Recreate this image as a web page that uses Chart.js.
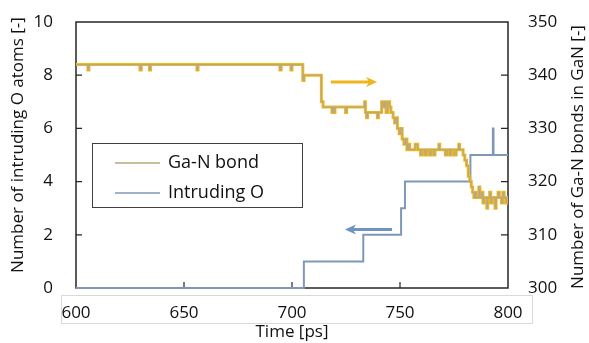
<!DOCTYPE html>
<html>
<head>
<meta charset="utf-8">
<script src="https://cdn.jsdelivr.net/npm/chart.js@4.4.1/dist/chart.umd.min.js"></script>
<style>
  html, body { margin: 0; padding: 0; background: #fff; }
</style>
</head>
<body>
<canvas id="chart" width="589" height="343"></canvas>
<script>
// Ga-N bonds in GaN (right axis), value changes at each time
const gaNTimes = [
  600, 605.5, 606, 629.6, 630.2, 634, 634.5, 656, 656.5, 694.4, 695, 699.5, 700,
  705, 705.6, 713.6, 714.4, 718.5, 718.9, 719.5, 719.9, 724.8, 725.3,
  733.6, 734, 734.5, 735, 739.5, 740,
  741.5, 742.2, 742.8, 743.5, 744.3, 745.2, 745.8,
  746.8, 747.5, 748.2, 748.8, 749.6, 750.3, 751, 751.8, 752.5, 753.2, 753.8, 754.5,
  757, 758.2, 759.5, 760.3, 761.5, 762.2, 763.5, 764.5, 765.5, 766.2, 768, 768.4,
  771, 771.8, 773, 773.6, 775, 776, 777.2, 777.6,
  779.2, 780, 780.8, 781.6, 782.3, 783, 783.6, 784.2,
  784.8, 785.3, 786.5, 787, 787.8, 788.4, 789, 790.2, 790.6, 791.5, 792, 792.6,
  794, 794.5, 795.4, 796, 797, 797.6, 798.2, 799, 799.5, 800
];
const gaNBonds = [
  342, 341, 342, 341, 342, 341, 342, 341, 342, 341, 342, 341, 342,
  339, 340, 335, 334, 333, 334, 333, 334, 333, 334,
  335, 333, 332, 333, 332, 333,
  335, 334, 335, 333, 335, 334, 333,
  332, 331, 332, 330, 329, 330, 328, 327, 328, 326, 327, 326,
  327, 326, 325, 326, 325, 326, 325, 326, 325, 326, 327, 326,
  325, 326, 325, 326, 325, 326, 327, 326,
  325, 324, 323, 321, 320, 319, 318, 317,
  318, 317, 319, 317, 318, 316, 317, 315, 317, 318, 316, 317,
  315, 317, 318, 317, 316, 318, 317, 316, 317, 317
];

// intruding O atoms (left axis)
const oTimes = [600, 705.5, 733, 750.5, 752.3, 782.6, 793, 793.3, 800];
const oCounts = [0, 1, 2, 3, 4, 5, 6, 5, 5];

const xTicks = [600, 650, 700, 750, 800];
const leftTicks = [0, 2, 4, 6, 8, 10];
const rightTicks = [300, 310, 320, 330, 340, 350];

// arrows in data coordinates: [fromTime, toTime, value, axis, colour]
const arrows = [
  [718, 739.4, 338.7, 'y1', '#f0b41c'],
  [746.3, 724.5, 2.2, 'y', '#6f94c4']
];

const FONT = "'Open Sans', sans-serif";
const LEFT_TITLE = 'Number of intruding O atoms [-]';
const RIGHT_TITLE = 'Number of Ga-N bonds in GaN [-]';

function verticalText(ctx, text, x, y) {
  ctx.save();
  ctx.translate(x, y);
  ctx.rotate(-Math.PI / 2);
  ctx.font = '17px ' + FONT;
  ctx.fillStyle = '#111';
  ctx.textAlign = 'center';
  ctx.textBaseline = 'middle';
  ctx.fillText(text, 0, 0);
  ctx.restore();
}

const decor = {
  id: 'decor',
  beforeDatasetsDraw(chart) {
    const { ctx, chartArea: a, scales } = chart;
    ctx.save();
    ctx.strokeStyle = '#262626';
    ctx.lineWidth = 1.5;
    ctx.strokeRect(a.left, a.top, a.right - a.left, a.bottom - a.top);
    ctx.lineWidth = 1.2;
    ctx.beginPath();
    leftTicks.slice(1, -1).forEach(v => {
      const y = scales.y.getPixelForValue(v);
      ctx.moveTo(a.left, y); ctx.lineTo(a.left + 6, y);
    });
    rightTicks.slice(1, -1).forEach(v => {
      const y = scales.y1.getPixelForValue(v);
      ctx.moveTo(a.right, y); ctx.lineTo(a.right - 7, y);
    });
    xTicks.slice(1, -1).forEach(v => {
      const x = scales.x.getPixelForValue(v);
      ctx.moveTo(x, a.bottom); ctx.lineTo(x, a.bottom - 6);
    });
    ctx.stroke();
    ctx.restore();
  },
  afterDraw(chart) {
    const { ctx, chartArea: a, scales } = chart;
    ctx.save();

    // light box round the x tick labels
    ctx.strokeStyle = '#d9d9d9';
    ctx.lineWidth = 1;
    ctx.strokeRect(a.left - 14.5, a.bottom + 7.5, a.right - a.left + 39, 28);

    // axis titles, read bottom to top
    verticalText(ctx, LEFT_TITLE, a.left - 58, a.top + 123);
    verticalText(ctx, RIGHT_TITLE, a.right + 70, a.top + 135);

    // arrows
    arrows.forEach(([t0, t1, v, axis, col]) => {
      const x0 = scales.x.getPixelForValue(t0);
      const x1 = scales.x.getPixelForValue(t1);
      const y = scales[axis].getPixelForValue(v);
      const dir = Math.sign(x1 - x0);
      ctx.strokeStyle = col;
      ctx.fillStyle = col;
      ctx.lineWidth = 3;
      ctx.beginPath();
      ctx.moveTo(x0, y);
      ctx.lineTo(x1 - dir * 8, y);
      ctx.stroke();
      ctx.beginPath();
      ctx.moveTo(x1, y);
      ctx.lineTo(x1 - dir * 11, y - 5);
      ctx.lineTo(x1 - dir * 8, y);
      ctx.lineTo(x1 - dir * 11, y + 5);
      ctx.closePath();
      ctx.fill();
    });

    // legend box
    const lx = a.left + 16, ly = a.top + 121, lw = 210, lh = 64;
    ctx.fillStyle = '#fff';
    ctx.fillRect(lx, ly, lw, lh);
    ctx.strokeStyle = '#404040';
    ctx.lineWidth = 1;
    ctx.strokeRect(lx + 0.5, ly + 0.5, lw, lh);
    const items = [['Ga-N bond', '#b9a77f'], ['Intruding O', '#7f98b8']];
    ctx.font = '18px ' + FONT;
    ctx.textBaseline = 'middle';
    items.forEach(([label, col], i) => {
      const y = ly + 20 + i * 30;
      ctx.strokeStyle = col;
      ctx.lineWidth = 1.3;
      ctx.beginPath();
      ctx.moveTo(lx + 23, y);
      ctx.lineTo(lx + 68, y);
      ctx.stroke();
      ctx.fillStyle = '#111';
      ctx.fillText(label, lx + 76, y);
    });
    ctx.restore();
  }
};

const tickFont = { family: FONT, size: 17 };
const titleFont = { family: FONT, size: 17 };

// keep the vertical scales from pushing the plot top down
const fitVertical = w => s => { s.width = w; s.paddingTop = 0; s.paddingBottom = 0; };

new Chart(document.getElementById('chart'), {
  type: 'line',
  data: {
    datasets: [
      {
        label: 'Ga-N bond',
        data: gaNTimes.map((t, i) => ({ x: t, y: gaNBonds[i] })),
        yAxisID: 'y1',
        borderColor: '#b9a77f',
        borderWidth: 1.2,
        stepped: true,
        pointRadius: 0
      },
      {
        label: 'Ga-N bond (raw)',
        data: gaNTimes.map((t, i) => ({ x: t, y: gaNBonds[i] })),
        yAxisID: 'y1',
        borderColor: '#f4ba18',
        borderWidth: 3,
        stepped: true,
        pointRadius: 0
      },
      {
        label: 'Intruding O',
        data: oTimes.map((t, i) => ({ x: t, y: oCounts[i] })),
        yAxisID: 'y',
        borderColor: '#7f98b8',
        borderWidth: 2,
        stepped: true,
        pointRadius: 0,
        clip: 5
      }
    ]
  },
  options: {
    responsive: false,
    devicePixelRatio: 1,
    animation: false,
    layout: { padding: { top: 22, left: 0, right: 0, bottom: 0 } },
    plugins: {
      legend: { display: false },
      tooltip: { enabled: false }
    },
    scales: {
      x: {
        type: 'linear',
        min: 600,
        max: 800,
        afterBuildTicks: s => { s.ticks = xTicks.map(v => ({ value: v })); },
        grid: { display: false, drawTicks: false },
        border: { display: false },
        ticks: { font: tickFont, color: '#111', padding: 15, maxRotation: 0 },
        title: { display: true, text: 'Time [ps]', font: titleFont, color: '#111', padding: { top: 0, bottom: 1 } },
        afterFit: s => { s.height = 55; }
      },
      y: {
        position: 'left',
        min: 0,
        max: 10,
        afterBuildTicks: s => { s.ticks = leftTicks.map(v => ({ value: v })); },
        grid: { display: false, drawTicks: false },
        border: { display: false },
        ticks: { font: tickFont, color: '#111', padding: 23 },
        title: { display: false },
        afterFit: fitVertical(76)
      },
      y1: {
        position: 'right',
        min: 300,
        max: 350,
        afterBuildTicks: s => { s.ticks = rightTicks.map(v => ({ value: v })); },
        grid: { display: false, drawTicks: false },
        border: { display: false },
        ticks: { font: tickFont, color: '#111', padding: 20 },
        title: { display: false },
        afterFit: fitVertical(81)
      }
    }
  },
  plugins: [decor]
});
</script>
</body>
</html>
